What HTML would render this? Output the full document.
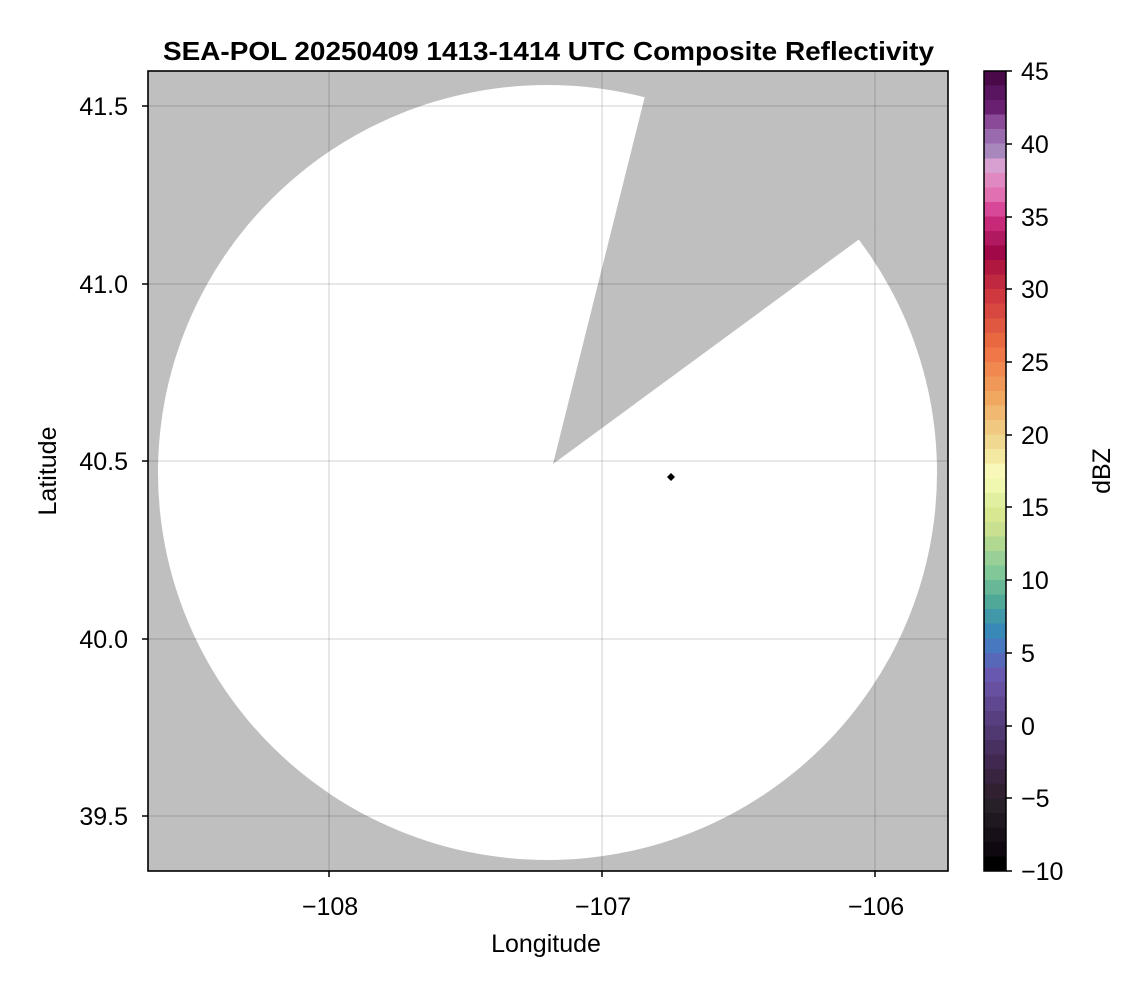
<!DOCTYPE html>
<html><head><meta charset="utf-8"><style>
body{margin:0;background:#fff;}
svg{display:block;font-family:"Liberation Sans",sans-serif;}
</style></head><body>
<svg width="1146" height="990" viewBox="0 0 1146 990">
<defs><clipPath id="pa"><rect x="148" y="71" width="800" height="800"/></clipPath></defs>
<rect x="148" y="71" width="800" height="800" fill="#bfbfbf"/>
<g clip-path="url(#pa)">
<ellipse cx="547.5" cy="472.5" rx="389.5" ry="387.5" fill="#fff"/>
<polygon points="553,464 654,60 948,60 948,174" fill="#bfbfbf"/>
<g stroke="#000" stroke-opacity="0.12" stroke-width="1.5">
<line x1="329" y1="71" x2="329" y2="871"/><line x1="602" y1="71" x2="602" y2="871"/><line x1="875" y1="71" x2="875" y2="871"/>
<line x1="148" y1="106" x2="948" y2="106"/><line x1="148" y1="284" x2="948" y2="284"/><line x1="148" y1="461" x2="948" y2="461"/><line x1="148" y1="639" x2="948" y2="639"/><line x1="148" y1="816" x2="948" y2="816"/>
</g>
<polygon points="671,473 675,477 671,481 667,477" fill="#000"/>
</g>
<rect x="148" y="71" width="800" height="800" fill="none" stroke="#000" stroke-width="1.6"/>
<g stroke="#000" stroke-width="1.5">
<line x1="329" y1="871" x2="329" y2="877"/><line x1="602" y1="871" x2="602" y2="877"/><line x1="875" y1="871" x2="875" y2="877"/>
<line x1="142" y1="106" x2="148" y2="106"/><line x1="142" y1="284" x2="148" y2="284"/><line x1="142" y1="461" x2="148" y2="461"/><line x1="142" y1="639" x2="148" y2="639"/><line x1="142" y1="816" x2="148" y2="816"/>
</g>
<g font-size="25" fill="#000" text-anchor="middle">
<text x="330" y="915">−108</text><text x="603" y="915">−107</text><text x="876" y="915">−106</text>
<text x="546" y="952">Longitude</text>
</g>
<g font-size="25" fill="#000" text-anchor="end">
<text x="128" y="115">41.5</text><text x="128" y="293">41.0</text><text x="128" y="470">40.5</text><text x="128" y="648">40.0</text><text x="128" y="825">39.5</text>
</g>
<text transform="translate(56,471) rotate(-90)" font-size="25" text-anchor="middle">Latitude</text>
<text x="163" y="60" font-size="26" font-weight="bold" textLength="771" lengthAdjust="spacingAndGlyphs">SEA-POL 20250409 1413-1414 UTC Composite Reflectivity</text>
<g shape-rendering="crispEdges">
<rect x="984" y="71.0" width="22" height="15.2" fill="#4a0a4a"/>
<rect x="984" y="85.5" width="22" height="15.2" fill="#5a1560"/>
<rect x="984" y="100.1" width="22" height="15.2" fill="#6a2070"/>
<rect x="984" y="114.6" width="22" height="15.2" fill="#8a4a98"/>
<rect x="984" y="129.2" width="22" height="15.2" fill="#9a6aae"/>
<rect x="984" y="143.7" width="22" height="15.2" fill="#a888bc"/>
<rect x="984" y="158.3" width="22" height="15.2" fill="#d8a0d0"/>
<rect x="984" y="172.8" width="22" height="15.2" fill="#e088c0"/>
<rect x="984" y="187.4" width="22" height="15.2" fill="#e070b0"/>
<rect x="984" y="201.9" width="22" height="15.2" fill="#d84898"/>
<rect x="984" y="216.5" width="22" height="15.2" fill="#c82878"/>
<rect x="984" y="231.0" width="22" height="15.2" fill="#b01860"/>
<rect x="984" y="245.5" width="22" height="15.2" fill="#a00848"/>
<rect x="984" y="260.1" width="22" height="15.2" fill="#b01840"/>
<rect x="984" y="274.6" width="22" height="15.2" fill="#c02840"/>
<rect x="984" y="289.2" width="22" height="15.2" fill="#d03840"/>
<rect x="984" y="303.7" width="22" height="15.2" fill="#d84840"/>
<rect x="984" y="318.3" width="22" height="15.2" fill="#e05840"/>
<rect x="984" y="332.8" width="22" height="15.2" fill="#e86840"/>
<rect x="984" y="347.4" width="22" height="15.2" fill="#f07848"/>
<rect x="984" y="361.9" width="22" height="15.2" fill="#f08850"/>
<rect x="984" y="376.5" width="22" height="15.2" fill="#f09858"/>
<rect x="984" y="391.0" width="22" height="15.2" fill="#f0a860"/>
<rect x="984" y="405.5" width="22" height="15.2" fill="#f0b870"/>
<rect x="984" y="420.1" width="22" height="15.2" fill="#f0c880"/>
<rect x="984" y="434.6" width="22" height="15.2" fill="#f0d890"/>
<rect x="984" y="449.2" width="22" height="15.2" fill="#f5e8a0"/>
<rect x="984" y="463.7" width="22" height="15.2" fill="#f8f8b8"/>
<rect x="984" y="478.3" width="22" height="15.2" fill="#f0f8b0"/>
<rect x="984" y="492.8" width="22" height="15.2" fill="#e0f0a0"/>
<rect x="984" y="507.4" width="22" height="15.2" fill="#d8e890"/>
<rect x="984" y="521.9" width="22" height="15.2" fill="#c8e090"/>
<rect x="984" y="536.5" width="22" height="15.2" fill="#b0d890"/>
<rect x="984" y="551.0" width="22" height="15.2" fill="#98d098"/>
<rect x="984" y="565.5" width="22" height="15.2" fill="#80c898"/>
<rect x="984" y="580.1" width="22" height="15.2" fill="#68b898"/>
<rect x="984" y="594.6" width="22" height="15.2" fill="#50a898"/>
<rect x="984" y="609.2" width="22" height="15.2" fill="#4098a8"/>
<rect x="984" y="623.7" width="22" height="15.2" fill="#3888b8"/>
<rect x="984" y="638.3" width="22" height="15.2" fill="#4878c0"/>
<rect x="984" y="652.8" width="22" height="15.2" fill="#5868b8"/>
<rect x="984" y="667.4" width="22" height="15.2" fill="#6858b0"/>
<rect x="984" y="681.9" width="22" height="15.2" fill="#6850a0"/>
<rect x="984" y="696.5" width="22" height="15.2" fill="#604890"/>
<rect x="984" y="711.0" width="22" height="15.2" fill="#584080"/>
<rect x="984" y="725.5" width="22" height="15.2" fill="#503870"/>
<rect x="984" y="740.1" width="22" height="15.2" fill="#483060"/>
<rect x="984" y="754.6" width="22" height="15.2" fill="#402850"/>
<rect x="984" y="769.2" width="22" height="15.2" fill="#382440"/>
<rect x="984" y="783.7" width="22" height="15.2" fill="#302030"/>
<rect x="984" y="798.3" width="22" height="15.2" fill="#282028"/>
<rect x="984" y="812.8" width="22" height="15.2" fill="#201820"/>
<rect x="984" y="827.4" width="22" height="15.2" fill="#181018"/>
<rect x="984" y="841.9" width="22" height="15.2" fill="#100810"/>
<rect x="984" y="856.5" width="22" height="14.5" fill="#000000"/>
</g>
<rect x="984" y="71" width="22" height="800" fill="none" stroke="#000" stroke-width="1.5"/>
<g stroke="#000" stroke-width="1.5">
<line x1="1006" y1="71" x2="1012" y2="71"/><line x1="1006" y1="144" x2="1012" y2="144"/><line x1="1006" y1="217" x2="1012" y2="217"/><line x1="1006" y1="289" x2="1012" y2="289"/><line x1="1006" y1="362" x2="1012" y2="362"/><line x1="1006" y1="435" x2="1012" y2="435"/><line x1="1006" y1="507" x2="1012" y2="507"/><line x1="1006" y1="580" x2="1012" y2="580"/><line x1="1006" y1="653" x2="1012" y2="653"/><line x1="1006" y1="726" x2="1012" y2="726"/><line x1="1006" y1="798" x2="1012" y2="798"/><line x1="1006" y1="871" x2="1012" y2="871"/>
</g>
<g font-size="25" fill="#000">
<text x="1021" y="80">45</text><text x="1021" y="153">40</text><text x="1021" y="226">35</text><text x="1021" y="298">30</text><text x="1021" y="371">25</text><text x="1021" y="444">20</text><text x="1021" y="516">15</text><text x="1021" y="589">10</text><text x="1021" y="662">5</text><text x="1021" y="735">0</text><text x="1021" y="807">−5</text><text x="1021" y="880">−10</text>
</g>
<text transform="translate(1110,471) rotate(-90)" font-size="25" text-anchor="middle">dBZ</text>
</svg>
</body></html>
